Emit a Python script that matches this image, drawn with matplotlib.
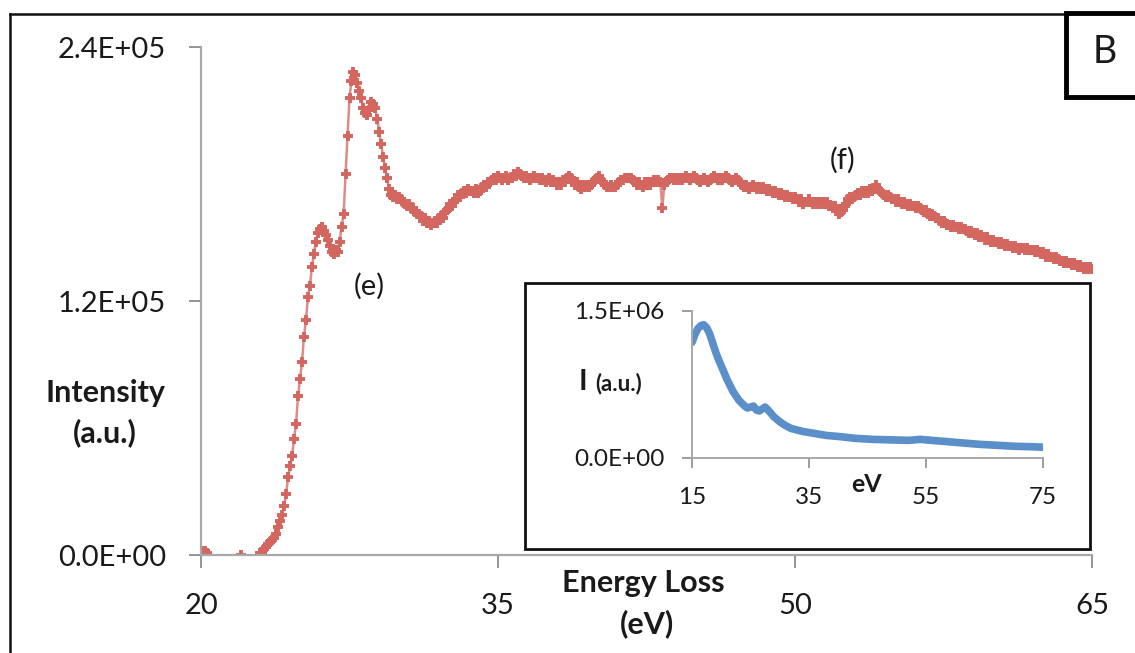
#!/usr/bin/env python3
import numpy as np
import matplotlib
matplotlib.use('Agg')
import matplotlib.pyplot as plt
from matplotlib.lines import Line2D
from matplotlib.patches import Rectangle

plt.rcParams['font.family'] = ['Lato', 'DejaVu Sans']

# main spectrum, 0.1 eV steps from 20 to 65 eV (values in thousands, a.u.)
energy_start = 20.0
energy_step = 0.1
intensity_k = [
    2, 1, 2, 1, -6, -8, -5, -9, -7, -6,                      # 20
    -8, -5, -7, -9, -6, -8, -5, -7, -6, -8,                  # 21
    0, -5, -7, -6, -8, -5, -6, -7, -5, -6,                   # 22
    1, 1, 3, 4, 5, 6, 7, 8, 10, 13,                          # 23
    16, 19, 23, 29, 37, 42, 47, 55, 62, 75,                  # 24
    83, 91, 103, 111, 122, 127, 136, 142, 148, 152,          # 25
    154, 155, 153, 151, 149, 146, 143, 142, 144, 143,        # 26
    148, 155, 161, 180, 198, 216, 224, 228, 227, 223,        # 27
    219, 216, 211, 209, 208, 210, 214, 213, 211, 206,        # 28
    200, 194, 188, 183, 178, 173, 170, 169, 170, 168,        # 29
    169, 168, 167, 166, 165, 166, 164, 164, 162, 161,        # 30
    161, 160, 158, 159, 157, 158, 156, 157, 158, 157,        # 31
    159, 160, 159, 162, 163, 164, 166, 165, 167, 168,        # 32
    170, 169, 171, 172, 171, 173, 172, 172, 171, 173,        # 33
    171, 172, 174, 175, 174, 176, 176, 177, 178, 177,        # 34
    179, 178, 177, 178, 179, 177, 178, 178, 180, 179,        # 35
    181, 180, 179, 178, 179, 178, 177, 178, 179, 178,        # 36
    178, 177, 178, 177, 176, 177, 178, 176, 177, 176,        # 37
    175, 176, 175, 177, 176, 178, 179, 178, 176, 175,        # 38
    176, 174, 173, 175, 174, 175, 174, 175, 176, 177,        # 39
    178, 179, 177, 176, 175, 174, 174, 175, 174, 174,        # 40
    175, 176, 177, 177, 178, 178, 178, 178, 177, 176,        # 41
    175, 176, 175, 174, 176, 175, 176, 175, 176, 177,        # 42
    176, 177, 176, 164, 175, 176, 177, 178, 178, 177,        # 43
    178, 177, 178, 177, 178, 179, 178, 177, 178, 179,        # 44
    178, 177, 176, 177, 178, 177, 176, 177, 178, 179,        # 45
    178, 177, 178, 177, 178, 179, 178, 177, 176, 177,        # 46
    178, 177, 176, 175, 174, 175, 174, 173, 174, 175,        # 47
    174, 173, 174, 173, 174, 173, 172, 173, 172, 171,        # 48
    172, 171, 170, 171, 170, 169, 170, 169, 169, 168,        # 49
    169, 168, 167, 168, 166, 167, 167, 168, 167, 166,        # 50
    167, 166, 167, 166, 167, 166, 167, 165, 165, 164,        # 51
    165, 163, 161, 162, 163, 165, 166, 168, 169, 168,        # 52
    169, 170, 171, 170, 172, 171, 172, 171, 173, 172,        # 53
    173, 175, 173, 172, 171, 170, 169, 170, 169, 168,        # 54
    168, 167, 168, 167, 166, 167, 166, 165, 166, 165,        # 55
    165, 164, 165, 164, 163, 162, 163, 161, 160, 161,        # 56
    160, 159, 159, 158, 157, 158, 157, 156, 156, 155,        # 57
    156, 155, 155, 154, 155, 154, 154, 153, 152, 153,        # 58
    152, 151, 152, 150, 151, 150, 149, 150, 149, 148,        # 59
    149, 148, 148, 147, 148, 147, 146, 147, 146, 146,        # 60
    145, 146, 145, 144, 145, 145, 144, 145, 144, 144,        # 61
    144, 143, 144, 143, 142, 143, 142, 141, 142, 141,        # 62
    141, 140, 141, 140, 139, 139, 138, 139, 138, 138,        # 63
    137, 138, 137, 136, 137, 136, 135, 136, 135, 136,        # 64
    135,                                                     # 65
]
main_xticks = [20, 35, 50, 65]
main_yticks = [0, 1.2e5, 2.4e5]
main_ytick_labels = ['0.0E+00', '1.2E+05', '2.4E+05']

# inset: full spectrum
inset_ev = [15, 15.5, 16, 16.5, 17, 17.5, 18, 18.5, 19, 19.5, 20, 21, 22, 23, 24,
            24.5, 25, 25.5, 26, 26.5, 27, 27.5, 28, 29, 30, 31, 32, 34, 36, 38,
            40, 43, 46, 49, 52, 54, 56, 58, 61, 64, 67, 70, 73, 75]
inset_i = [1.18, 1.26, 1.32, 1.35, 1.36, 1.33, 1.27, 1.18, 1.09, 1.01, 0.94, 0.80,
           0.68, 0.59, 0.53, 0.51, 0.52, 0.53, 0.49, 0.48, 0.50, 0.52, 0.49, 0.42,
           0.37, 0.33, 0.30, 0.27, 0.25, 0.23, 0.22, 0.20, 0.19, 0.185, 0.18, 0.19,
           0.18, 0.17, 0.155, 0.14, 0.13, 0.12, 0.115, 0.11]
inset_xticks = [15, 35, 55, 75]
inset_yticks = [0, 1.5e6]
inset_ytick_labels = ['0.0E+00', '1.5E+06']

W, H = 1135, 653


def box(left, top, right, bottom):
    # pixel box -> figure fraction rect
    return [left / W, 1 - bottom / H, (right - left) / W, (bottom - top) / H]


def fxy(px, py):
    return px / W, 1 - py / H


fig = plt.figure(figsize=(W / 100, H / 100), dpi=100)

red = '#D3665F'
grey = '#8C8C8C'
txt = '#1A1A1A'

# main plot
ax = fig.add_axes(box(201, 47, 1092, 555))
x = energy_start + energy_step * np.arange(len(intensity_k))
y = np.array(intensity_k) * 1000.0
ax.plot(x, y, color=red, lw=1.8, alpha=0.75)
ax.plot(x, y, ls='none', marker='+', ms=6.5, mew=2.8, color=red)
ax.set_xlim(20, 65)
ax.set_ylim(0, 2.4e5)
ax.set_xticks(main_xticks)
ax.set_yticks(main_yticks)
ax.set_yticklabels(main_ytick_labels)
for s in ['top', 'right']:
    ax.spines[s].set_visible(False)
for s in ['left', 'bottom']:
    ax.spines[s].set_color('#A8A8A8')
    ax.spines[s].set_linewidth(1.6)
ax.tick_params(axis='both', direction='out', length=9, width=1.3, color=grey,
               labelsize=21, labelcolor=txt)
ax.tick_params(axis='y', pad=16)
ax.tick_params(axis='x', pad=18)

ax.text(28.5, 1.27e5, '(e)', fontsize=21, color=txt, ha='center', va='center')
ax.text(52.4, 1.865e5, '(f)', fontsize=21, color=txt, ha='center', va='center')

fig.text(*fxy(105, 393), 'Intensity', fontsize=22, fontweight='bold', color=txt,
         ha='center', va='center')
fig.text(*fxy(105, 433), '(a.u.)', fontsize=22, fontweight='bold', color=txt,
         ha='center', va='center')
fig.text(*fxy(643, 583), 'Energy Loss', fontsize=22, fontweight='bold', color=txt,
         ha='center', va='center')
fig.text(*fxy(647, 624), '(eV)', fontsize=22, fontweight='bold', color=txt,
         ha='center', va='center')

# inset frame
fig.add_artist(Rectangle(fxy(525, 549), (1090 - 525) / W, (549 - 283) / H,
                         transform=fig.transFigure, facecolor='white',
                         edgecolor='#111111', lw=2, zorder=3))

ins = fig.add_axes(box(692, 311, 1043, 458), zorder=4)
ins.patch.set_alpha(0)
ins.plot(inset_ev, np.array(inset_i) * 1e6, color='#5B8FCA', lw=5.5,
         solid_capstyle='round')
ins.set_xlim(15, 75)
ins.set_ylim(0, 1.5e6)
ins.set_xticks(inset_xticks)
ins.set_yticks(inset_yticks)
ins.set_yticklabels(inset_ytick_labels)
for s in ['top', 'right']:
    ins.spines[s].set_visible(False)
for s in ['left', 'bottom']:
    ins.spines[s].set_color('#A8A8A8')
    ins.spines[s].set_linewidth(1.4)
ins.tick_params(axis='both', direction='out', length=7, width=1.2, color=grey,
                labelsize=17.5, labelcolor=txt)
ins.tick_params(axis='y', pad=13)
ins.tick_params(axis='x', pad=14)

fig.text(*fxy(579, 382), 'I', fontsize=21, fontweight='bold', color=txt,
         ha='left', va='center', zorder=5)
fig.text(*fxy(595, 384), '(a.u.)', fontsize=16, fontweight='bold', color=txt,
         ha='left', va='center', zorder=5)
fig.text(*fxy(867, 484), 'eV', fontsize=18, fontweight='bold', color=txt,
         ha='center', va='center', zorder=5)

# outer frame (cropped panel)
fig.add_artist(Line2D([9.5 / W, 9.5 / W], [0, 1 - 13.5 / H], color='#111111', lw=1.8))
fig.add_artist(Line2D([9.5 / W, 1], [1 - 13.5 / H, 1 - 13.5 / H], color='#111111', lw=1.8))

# panel letter box
fig.add_artist(Rectangle(fxy(1066, 97), (1150 - 1066) / W, (97 - 13) / H,
                         transform=fig.transFigure, facecolor='white',
                         edgecolor='black', lw=3.5, zorder=5))
fig.text(*fxy(1105, 52), 'B', fontsize=27, color=txt, ha='center', va='center', zorder=6)

fig.savefig('out.png', dpi=100)
